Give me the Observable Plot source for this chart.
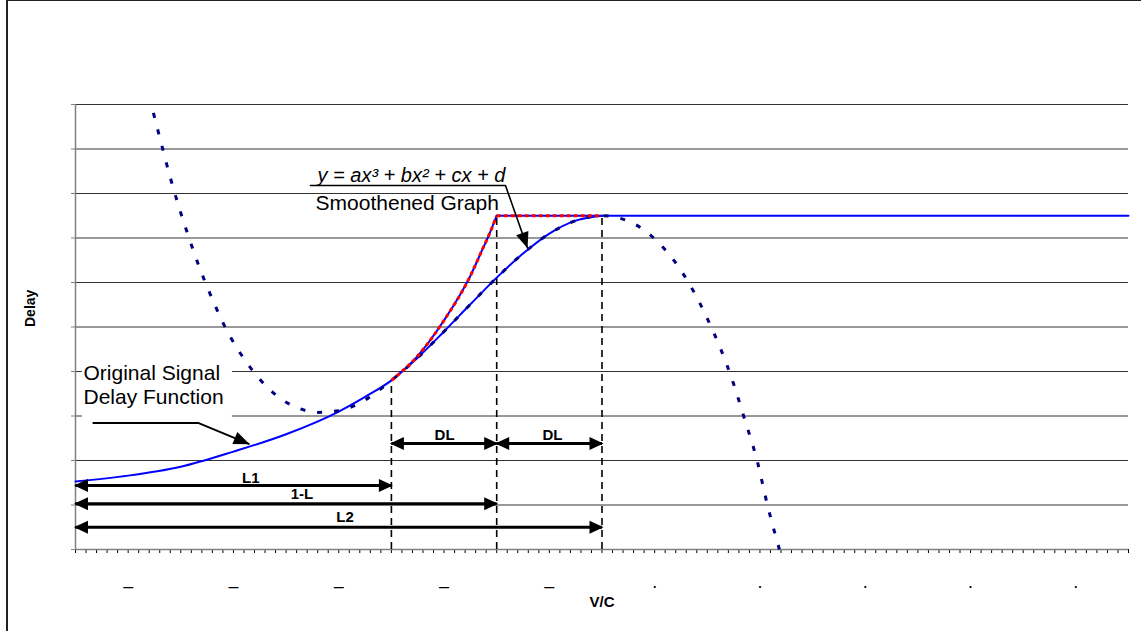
<!DOCTYPE html>
<html>
<head>
<meta charset="utf-8">
<script src="https://cdn.jsdelivr.net/npm/d3@7"></script>
<script src="https://cdn.jsdelivr.net/npm/@observablehq/plot@0.6"></script>
<style>
  body { margin: 0; background: #fff; }
  #wrap { position: relative; width: 1141px; height: 631px; overflow: hidden; background: #fff; }
  #frame { position: absolute; left: 6px; top: 0; width: 1300px; height: 800px;
           border-left: 2px solid #222; border-top: 1px solid #222; pointer-events: none; box-sizing: border-box; }
  #wrap svg { position: absolute; left: 0; top: 0; }
  #wrap svg [aria-label="y-axis tick"] { stroke: #808080; }
</style>
</head>
<body>
<div id="wrap"><div id="frame"></div></div>
<script>
// ---------- layout ----------
const W = 1141, H = 631, ML = 75, MR = 13, MT = 104, MB = 82;
const xDomain = [0, 2], yDomain = [0, 100];
const FONT = "'Liberation Sans', Arial, Helvetica, sans-serif";

// ---------- axes ----------
const yGridValues = [10, 20, 30, 40, 50, 60, 70, 80, 90, 100];
const yTickValues = [0, 10, 20, 30, 40, 50, 60, 70, 80, 90, 100];
const xMinorTicks = d3.range(0, 101).map(i => +(i * 0.02).toFixed(2));
const xTickLabelPositions = [0.1, 0.3, 0.5, 0.7, 0.9, 1.1, 1.3, 1.5, 1.7, 1.9];
const xTickLabelTexts = ["–", "–", "–", "–", "–", "·", "·", "·", "·", "·"];
const xAxisTitle = "V/C";
const yAxisTitle = "Delay";

// ---------- series (V/C, Delay) ----------
// cubic y = ax^3 + bx^2 + cx + d (dark blue dotted)
const cubicV = [0.148, 0.163, 0.180, 0.199, 0.218, 0.231, 0.266, 0.279, 0.295, 0.313, 0.330, 0.349, 0.371, 0.396, 0.427, 0.459,
                0.50, 0.55, 0.60, 0.65, 0.70, 0.75, 0.80, 0.85, 0.90, 0.95, 1.00, 1.05, 1.10, 1.15, 1.20, 1.25, 1.269, 1.295, 1.314, 1.337];
const cubicDelay = [98.1, 91.2, 83.6, 76.0, 69.2, 64.8, 54.6, 51.2, 47.6, 44.1, 41.2, 38.4, 35.7, 33.4, 31.6, 30.8,
                    31.2, 33.6, 38.0, 43.1, 49.0, 55.1, 61.1, 66.5, 71.0, 73.9, 75.0, 73.8, 69.8, 62.7, 51.9, 37.2, 30.0, 19.8, 10.1, 0];
// original signal delay function (blue solid): rising part then plateau
const originalV = [0, 0.1, 0.2, 0.3, 0.4, 0.5, 0.55, 0.60, 0.65, 0.70, 0.75, 0.772, 0.785, 0.80];
const originalDelay = [15.3, 16.6, 18.6, 22.0, 25.9, 31.0, 34.3, 38.0, 43.5, 51.5, 61.5, 67.2, 70.6, 75.0];
const plateauV = [0.8, 2.0];
const plateauDelay = [75, 75];
// smoothened graph (blue solid)
const smoothV = [0.60, 0.65, 0.70, 0.75, 0.80, 0.85, 0.90, 0.95, 1.00];
const smoothDelay = [38.0, 43.1, 49.0, 55.1, 61.1, 66.5, 71.0, 73.9, 75.0];
// red dotted overlay: part of the original between L1 and L2
const redRiseStart = 0.6;
const redFlatV = [0.8, 1.0];
const redFlatDelay = [75, 75];
// vertical dashed boundaries
const boundaryV = [0.6, 0.8, 1.0];
const boundaryTop = [38, 75, 75];

// ---------- dimension arrows ----------
const dimLabels = ["DL", "DL", "L1", "1-L", "L2"];
const dimFrom = [0.6, 0.8, 0, 0, 0];
const dimTo = [0.8, 1.0, 0.6, 0.8, 1.0];
const dimLevel = [23.8, 23.8, 14.4, 10.3, 5.0];
const dimLabelX = [0.701, 0.906, 0.333, 0.430, 0.512];
const dimLabelLevel = [25.7, 25.7, 16.0, 12.4, 7.3];

// ---------- annotations ----------
const origLabel = "Original Signal\nDelay Function";
const origLabelPos = [0.0152, 37.1];
const origBoxV = [0.013, 0.298];
const origBoxDelay = [29.0, 45.8];
const origPointerV = [0.034, 0.234, 0.329];
const origPointerDelay = [28.4, 28.4, 23.75];
const formulaLabel = "y = ax³ + bx² + cx + d";
const formulaPos = [0.4596, 84.0];
const smoothLabel = "Smoothened Graph";
const smoothLabelPos = [0.456, 77.8];
const formulaPointerV = [0.4463, 0.8167, 0.858];
const formulaPointerDelay = [81.8, 81.8, 67.9];

// ---------- helpers ----------
const kx = (W - ML - MR) / (xDomain[1] - xDomain[0]);
const ky = (H - MT - MB) / (yDomain[1] - yDomain[0]);
const pts = (xs, ys) => xs.map((x, i) => ({x, y: ys[i]}));
const angleOf = (xs, ys) => {
  const n = xs.length;
  const dx = (xs[n - 1] - xs[n - 2]) * kx;
  const dy = -(ys[n - 1] - ys[n - 2]) * ky;
  return Math.atan2(dy, dx) * 180 / Math.PI;
};
const headDim = {draw(c) { c.moveTo(1.5, 0); c.lineTo(-12.5, -6.5); c.lineTo(-12.5, 6.5); c.closePath(); }};
const headPtr = {draw(c) { c.moveTo(1, 0); c.lineTo(-15, -6.5); c.lineTo(-15, 6.5); c.closePath(); }};

const cubic = pts(cubicV, cubicDelay);
const original = pts(originalV, originalDelay);
const plateau = pts(plateauV, plateauDelay);
const smooth = pts(smoothV, smoothDelay);
const redRise = original.filter(d => d.x >= redRiseStart);
const redFlat = pts(redFlatV, redFlatDelay);
const boundaries = boundaryV.map((x, i) => ({x, top: boundaryTop[i]}));
const dims = dimLabels.map((label, i) => ({label, from: dimFrom[i], to: dimTo[i], level: dimLevel[i], lx: dimLabelX[i], ly: dimLabelLevel[i]}));
const dimHeads = dims.flatMap(d => [{x: d.from, y: d.level, a: 180}, {x: d.to, y: d.level, a: 0}]);
const origPointer = pts(origPointerV, origPointerDelay);
const formulaPointer = pts(formulaPointerV, formulaPointerDelay);
const ptrHeads = [
  {x: origPointerV[2], y: origPointerDelay[2], a: angleOf(origPointerV, origPointerDelay)},
  {x: formulaPointerV[2], y: formulaPointerDelay[2], a: angleOf(formulaPointerV, formulaPointerDelay)}
];
const xLabels = xTickLabelPositions.map((x, i) => ({x, t: xTickLabelTexts[i]}));

const chart = Plot.plot({
  width: W, height: H,
  marginLeft: ML, marginRight: MR, marginTop: MT, marginBottom: MB,
  style: {background: "transparent", fontFamily: FONT},
  x: {domain: xDomain, ticks: xMinorTicks, tickSize: 4, tickFormat: () => "", label: null},
  y: {domain: yDomain, ticks: yTickValues, tickSize: 4, tickFormat: () => "", label: null},
  marks: [
    Plot.ruleY(yGridValues, {stroke: "#333", strokeWidth: 1}),
    Plot.ruleX([0], {stroke: "#808080", strokeWidth: 1.5}),
    Plot.ruleY([0], {stroke: "#808080", strokeWidth: 1.5}),
    Plot.rect([0], {x1: origBoxV[0], x2: origBoxV[1], y1: origBoxDelay[0], y2: origBoxDelay[1], fill: "white"}),
    Plot.ruleX(boundaries, {x: "x", y1: 0, y2: "top", stroke: "black", strokeWidth: 1.6, strokeDasharray: "7,5"}),
    Plot.line(original, {x: "x", y: "y", curve: "monotone-x", stroke: "#0000ff", strokeWidth: 2}),
    Plot.line(plateau, {x: "x", y: "y", stroke: "#0000ff", strokeWidth: 2}),
    Plot.line(smooth, {x: "x", y: "y", curve: "monotone-x", stroke: "#0000ff", strokeWidth: 2}),
    Plot.line(cubic, {x: "x", y: "y", curve: "monotone-x", stroke: "#000080", strokeWidth: 3, strokeDasharray: "5,12", strokeLinecap: "butt"}),
    Plot.line(redRise, {x: "x", y: "y", curve: "monotone-x", stroke: "#ff0000", strokeWidth: 3, strokeDasharray: "4,3", strokeLinecap: "butt"}),
    Plot.line(redFlat, {x: "x", y: "y", stroke: "#ff0000", strokeWidth: 3, strokeDasharray: "4,3", strokeLinecap: "butt"}),
    // dimension arrows
    Plot.link(dims, {x1: "from", x2: "to", y1: "level", y2: "level", stroke: "black", strokeWidth: 3}),
    Plot.dot(dimHeads, {x: "x", y: "y", rotate: "a", symbol: headDim, fill: "black", stroke: "none"}),
    Plot.text(dims, {x: "lx", y: "ly", text: "label", fontSize: 15, fontWeight: "bold", fill: "black"}),
    // pointers
    Plot.line(origPointer, {x: "x", y: "y", stroke: "black", strokeWidth: 2, curve: "linear"}),
    Plot.line(formulaPointer, {x: "x", y: "y", stroke: "black", strokeWidth: 1.6, curve: "linear"}),
    Plot.dot(ptrHeads, {x: "x", y: "y", rotate: "a", symbol: headPtr, fill: "black", stroke: "none"}),
    // labels
    Plot.text([origLabel], {x: origLabelPos[0], y: origLabelPos[1], textAnchor: "start", lineAnchor: "middle", lineHeight: 1.13, fontSize: 21, fill: "black"}),
    Plot.text([formulaLabel], {x: formulaPos[0], y: formulaPos[1], textAnchor: "start", fontSize: 20, fontStyle: "italic", fill: "black"}),
    Plot.text([smoothLabel], {x: smoothLabelPos[0], y: smoothLabelPos[1], textAnchor: "start", fontSize: 21, fill: "black"}),
    // axis titles and tick labels
    Plot.text(xLabels, {x: "x", text: "t", frameAnchor: "bottom", dy: 42, fontSize: 18, fill: "black"}),
    Plot.text([yAxisTitle], {frameAnchor: "left", dx: -45, rotate: -90, fontSize: 14, fontWeight: "bold", fill: "black"}),
    Plot.text([xAxisTitle], {frameAnchor: "bottom", dy: 57, fontSize: 15, fontWeight: "bold", fill: "black"})
  ]
});
const wrap = document.getElementById("wrap");
wrap.insertBefore(chart, wrap.firstChild);
</script>
</body>
</html>
